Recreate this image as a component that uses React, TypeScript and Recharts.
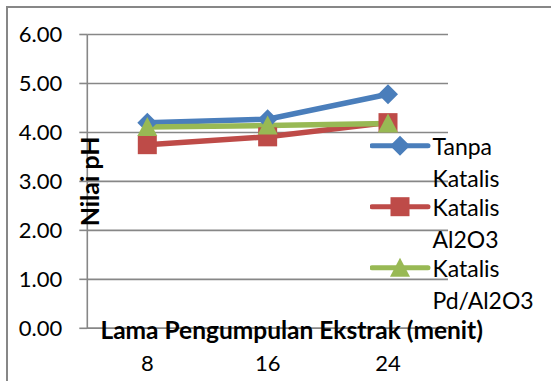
import { CartesianGrid, Line, LineChart, XAxis, YAxis } from "recharts";

const menit = ["8", "16", "24"];
const tanpaKatalis = [4.2, 4.27, 4.78];
const katalisAl2O3 = [3.75, 3.91, 4.2];
const katalisPdAl2O3 = [4.11, 4.14, 4.18];
const yTicks = [0, 1, 2, 3, 4, 5, 6];

const FONT = "Lato, 'Open Sans', sans-serif";
const GRID = "#878787";

type Shape = "diamond" | "square" | "triangle";

const series: { key: string; name: string; color: string; shape: Shape; values: number[] }[] = [
  { key: "tanpa", name: "Tanpa Katalis", color: "#4A7EBB", shape: "diamond", values: tanpaKatalis },
  { key: "al2o3", name: "Katalis Al2O3", color: "#BE4B48", shape: "square", values: katalisAl2O3 },
  { key: "pd", name: "Katalis Pd/Al2O3", color: "#98B954", shape: "triangle", values: katalisPdAl2O3 },
];

const data = menit.map((m, i) => {
  const row: Record<string, string | number> = { menit: m };
  series.forEach((s) => (row[s.key] = s.values[i]));
  return row;
});

function marker(shape: Shape, cx: number, cy: number, fill: string, key?: string) {
  if (shape === "diamond") {
    return <polygon key={key} points={`${cx},${cy - 10} ${cx + 10},${cy} ${cx},${cy + 10} ${cx - 10},${cy}`} fill={fill} />;
  }
  if (shape === "square") {
    return <rect key={key} x={cx - 9.5} y={cy - 9.5} width={19} height={19} fill={fill} />;
  }
  return <polygon key={key} points={`${cx},${cy - 10} ${cx + 10},${cy + 9} ${cx - 10},${cy + 9}`} fill={fill} />;
}

const makeDot = (shape: Shape, color: string) => (props: any) =>
  marker(shape, props.cx, props.cy, color, `${shape}-${props.index}`);

// rotated title sits just inside the plot, right of the value axis
const YTitle = (props: any) => {
  const { x, y, width, height } = props.viewBox;
  const tx = x + width + 2;
  const ty = y + height / 2;
  return (
    <text x={tx} y={ty} transform={`rotate(-90 ${tx} ${ty})`} textAnchor="middle" dominantBaseline="central"
      fontFamily={FONT} fontSize={25} fontWeight={700} fill="#000">
      Nilai pH
    </text>
  );
};

const XTitle = (props: any) => {
  const { x, y, width } = props.viewBox;
  return (
    <text x={x + width / 2 + 24} y={y + 1} textAnchor="middle" dominantBaseline="central"
      fontFamily={FONT} fontSize={24.5} fontWeight={700} fill="#000">
      Lama Pengumpulan Ekstrak (menit)
    </text>
  );
};

function LegendBox() {
  return (
    <svg width={181} height={200} style={{ position: "absolute", left: 370, top: 125 }}>
      {series.map((s, i) => {
        const cy = 20.7 + i * 61;
        const lines = s.name.split(" ");
        return (
          <g key={s.key}>
            <line x1={2} x2={58} y1={cy} y2={cy} stroke={s.color} strokeWidth={5} strokeLinecap="round" />
            {marker(s.shape, 30, cy, s.color)}
            {lines.map((t, j) => (
              <text key={j} x={62.5} y={cy + j * 32.5} dominantBaseline="central" fontFamily={FONT} fontSize={23} fill="#000">
                {t}
              </text>
            ))}
          </g>
        );
      })}
    </svg>
  );
}

export default function App() {
  return (
    <div style={{ position: "absolute", left: 0, top: 0, width: 551, height: 381, background: "#fff", overflow: "hidden" }}>
      <div style={{ position: "absolute", left: 6, top: 6, width: 600, height: 400, borderLeft: `2px solid ${GRID}`, borderTop: `2px solid ${GRID}` }} />
      <LineChart width={551} height={381} data={data} margin={{ top: 34.5, right: 103, bottom: 0, left: 0 }} style={{ position: "absolute", left: 0, top: 0 }}>
        <CartesianGrid vertical={false} stroke={GRID} strokeWidth={1.6} />
        <XAxis dataKey="menit" height={52.7} padding={{ left: 60, right: 60 }} axisLine={{ stroke: GRID, strokeWidth: 1.6 }}
          tickLine={false} tickSize={0} tickMargin={27}
          tick={{ fontFamily: FONT, fontSize: 22, fill: "#000" }} label={<XTitle />} />
        <YAxis domain={[0, 6]} ticks={yTicks} width={87.3} interval={0} tickFormatter={(v: number) => v.toFixed(2)}
          axisLine={{ stroke: GRID, strokeWidth: 1.6 }} tickLine={{ stroke: GRID, strokeWidth: 1.6 }} tickSize={8} tickMargin={17}
          tick={{ fontFamily: FONT, fontSize: 22, fill: "#000" }} label={<YTitle />} />
        {series.map((s) => (
          <Line key={s.key} dataKey={s.key} name={s.name} stroke={s.color} strokeWidth={5.5} type="linear"
            dot={makeDot(s.shape, s.color)} activeDot={false} isAnimationActive={false} />
        ))}
      </LineChart>
      <LegendBox />
    </div>
  );
}
